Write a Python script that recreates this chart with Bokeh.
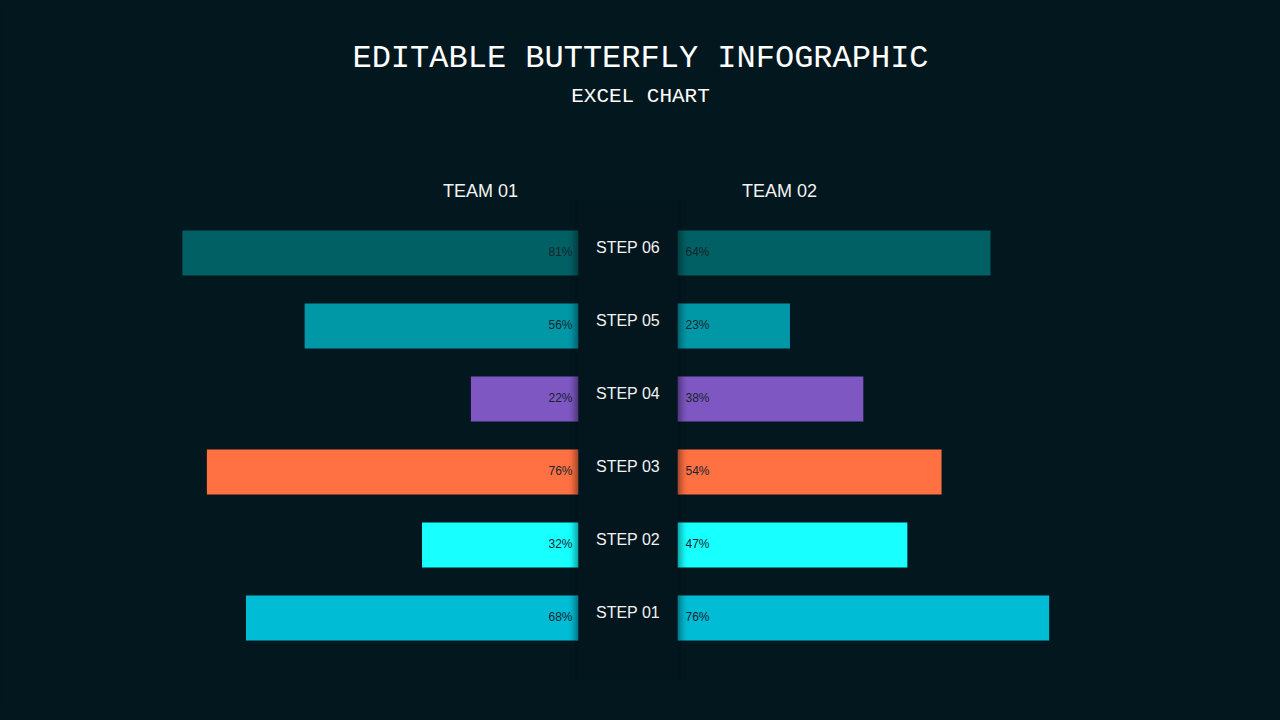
from bokeh.plotting import figure
from bokeh.models import Range1d
from bokeh.embed import file_html
from bokeh.resources import INLINE
from bokeh.core.properties import value

# data, bottom to top
steps = ["STEP 01", "STEP 02", "STEP 03", "STEP 04", "STEP 05", "STEP 06"]
team1 = [68, 32, 76, 22, 56, 81]
team2 = [76, 47, 54, 38, 23, 64]
colors = ["#00BCD4", "#18FFFF", "#FF7043", "#7E57C2", "#0097A7", "#006064"]
teams = ["TEAM 01", "TEAM 02"]

BG = "#03171F"
W, H = 1264, 704
PX = 4.89          # pixels per percent
ROW = 73.0         # pixels per step
CX, CY = 627.5, 617.5   # page position of centre / STEP 01 row


def xp(page_x):
    return (page_x - CX) / PX


def yp(page_y):
    return 1 + (CY - page_y) / ROW


GAP = xp(677)
BAR_H = 45 / ROW
pos = list(range(1, len(steps) + 1))

p = figure(width=W, height=H, output_backend="svg", toolbar_location=None,
           x_range=Range1d(xp(0), xp(W)), y_range=Range1d(yp(H), yp(0)),
           min_border=0, outline_line_color=None,
           background_fill_color=BG, border_fill_color=BG)
p.axis.visible = False
p.grid.visible = False

# bars
p.hbar(y=pos, left=[-GAP - v for v in team1], right=-GAP, height=BAR_H,
       fill_color=colors, line_color=None)
p.hbar(y=pos, left=GAP, right=[GAP + v for v in team2], height=BAR_H,
       fill_color=colors, line_color=None)

# centre panel with soft shadow on both sides
top, bot = yp(200), yp(680)
sw = 1.1 / PX
for k in range(10):
    fade = (1 - k / 10) ** 2
    for side in (-1, 1):
        l0, l1 = GAP + k * sw, GAP + (k + 1) * sw
        left, right = (-l1, -l0) if side < 0 else (l0, l1)
        p.quad(left=left, right=right, top=top, bottom=bot,
               fill_color="black", fill_alpha=0.12 * fade, line_color=None)
        p.hbar(y=pos, left=left, right=right, height=BAR_H,
               fill_color="black", fill_alpha=0.28 * fade, line_color=None)
p.quad(left=-GAP, right=GAP, top=top, bottom=bot, fill_color="#03161E",
       line_color=None)

# value labels
p.text(x=-GAP - 6 / PX, y=[v + 1 / ROW for v in pos],
       text=[f"{v}%" for v in team1],
       text_align="right", text_baseline="middle", text_font_size="12px",
       text_font=value("Liberation Sans"), text_color="#15252d")
p.text(x=GAP + 8 / PX, y=[v + 1 / ROW for v in pos],
       text=[f"{v}%" for v in team2],
       text_align="left", text_baseline="middle", text_font_size="12px",
       text_font=value("Liberation Sans"), text_color="#15252d")

# step labels
p.text(x=0, y=[v + 6 / ROW for v in pos], text=steps, text_align="center",
       text_baseline="middle", text_font_size="16px",
       text_font=value("Liberation Sans"), text_color="#F2F2F2")

# team headers
p.text(x=[xp(480), xp(779)], y=yp(190), text=teams, text_align="center",
       text_baseline="middle", text_font_size="18px",
       text_font=value("Liberation Sans"), text_color="#F2F2F2")

# titles
p.text(x=xp(640), y=yp(58), text=["EDITABLE BUTTERFLY INFOGRAPHIC"],
       text_align="center", text_baseline="middle", text_font_size="32px",
       text_font=value("Liberation Mono"), text_color="#FFFFFF")
p.text(x=xp(640), y=yp(96), text=["EXCEL CHART"],
       text_align="center", text_baseline="middle", text_font_size="21px",
       text_font=value("Liberation Mono"), text_color="#FFFFFF")

html = file_html(p, INLINE)
html = html.replace("<body>", '<body style="background:%s">' % BG)
open("out.html", "w").write(html)
